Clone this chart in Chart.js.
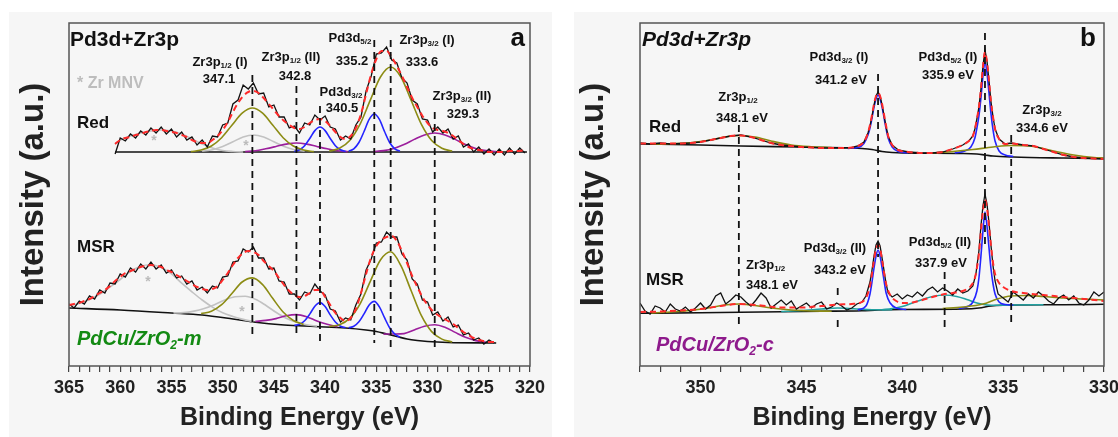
<!DOCTYPE html>
<html><head><meta charset="utf-8">
<script src="https://cdn.jsdelivr.net/npm/chart.js@4.4.1/dist/chart.umd.min.js"></script>
<style>
html,body{margin:0;padding:0;background:#fff;}
#wrap{position:relative;width:1118px;height:437px;overflow:hidden;}
.bg{position:absolute;background:#f6f6f6;}
canvas{position:absolute;top:0;}
</style></head><body>
<div id="wrap">
<div class="bg" style="left:9px;top:12px;width:543px;height:425px"></div>
<div class="bg" style="left:574px;top:12px;width:544px;height:425px"></div>
<canvas id="ca" width="559" height="437" style="left:0"></canvas>
<canvas id="cb" width="580" height="437" style="left:559px"></canvas>
</div>
<script>
// ---------- Panel a (PdCu/ZrO2-m) ----------
const aTicks = [365,360,355,350,345,340,335,330,325,320];
const aRedE = [360.5,360,359.5,359,358.5,358,357.5,357,356.5,356,355.5,355,354.5,354,353.5,353,352.5,352,351.5,351,350.5,350,349.5,349,348.5,348,347.5,347,346.5,346,345.5,345,344.5,344,343.5,343,342.5,342,341.5,341,340.5,340,339.5,339,338.5,338,337.5,337,336.5,336,335.5,335,334.5,334,333.5,333,332.5,332,331.5,331,330.5,330,329.5,329,328.5,328,327.5,327,326.5,326,325.5,325,324.5,324,323.5,323,322.5,322,321.5,321,320.5];
const aRedY = [212,228,225,232,228,235,231,238,233,239,232,237,229,234,226,229,221,226,219,230,229,241,243,262,266,281,277,283,272,273,259,261,249,249,238,240,233,243,241,251,246,250,239,237,226,230,227,241,249,275,290,312,313,319,306,303,288,283,266,262,247,246,234,239,233,237,227,230,219,222,214,219,212,217,211,217,211,218,212,218,213];
const aRedFit = [222,226,228,229,231,232,234,235,236,236,235,234,233,231,229,226,224,223,223,226,230,236,244,254,263,270,274,275,273,268,262,256,250,245,241,238,237,239,243,246,247,245,240,234,229,227,230,238,252,272,292,307,315,315,309,300,290,279,268,259,250,243,238,236,235,233,230,226,222,219,217,216,215,214,214,214,214,215,215,215,216];
const aRedBaseE = [360.5,320.3];
const aRedBaseY = [214,214];
const aRedGray1E = [360.5,360,359,358,357,356,355,354,353,352,351,350,349,348];
const aRedGray1Y = [222,226,230,233,235,236,235,232,227,222,218,215.5,214.5,214];
const aRedGray2E = [352,351,350,349,348,347,346,345,344,343,342];
const aRedGray2Y = [214.7,216.3,219.5,224.3,229,231,229,224.3,219.5,216.3,214.7];
const aRedOl1E = [353.1,352.1,351.1,350.1,349.1,348.1,347.1,346.1,345.1,344.1,343.1,342.1,341.1];
const aRedOl1Y = [214.4,215.9,220,228.3,240.7,252.8,258,252.8,240.7,228.3,220,215.9,214.4];
const aRedPu1E = [347.8,346.8,345.8,344.8,343.8,342.8,341.8,340.8,339.8,338.8,337.8];
const aRedPu1Y = [214.4,215.2,217.2,219.5,221.9,223,221.9,219.5,217.2,215.2,214.4];
const aRedBl1E = [343,342.5,342,341.5,341,340.5,340,339.5,339,338.5,338];
const aRedBl1Y = [214.5,216.2,220.3,227.5,235.4,239,235.4,227.5,220.3,216.2,214.5];
const aRedBl2E = [337.7,337.2,336.7,336.2,335.7,335.2,334.7,334.2,333.7,333.2,332.7];
const aRedBl2Y = [214.8,217.2,223.5,234.5,246.6,252,246.6,234.5,223.5,217.2,214.8];
const aRedOl2E = [339.6,338.6,337.6,336.6,335.6,334.6,333.6,332.6,331.6,330.6,329.6,328.6,327.6];
const aRedOl2Y = [214.9,217.7,225.5,241.6,265.6,289,299,289,265.6,241.6,225.5,217.7,214.9];
const aRedPu2E = [335.3,334.3,333.3,332.3,331.3,330.3,329.3,328.3,327.3,326.3,325.3,324.3,323.3];
const aRedPu2Y = [214.4,215.4,217.6,221.5,226.6,231.1,233,231.1,226.6,221.5,217.6,215.4,214.4];

const aMsrE = [365,364.5,364,363.5,363,362.5,362,361.5,361,360.5,360,359.5,359,358.5,358,357.5,357,356.5,356,355.5,355,354.5,354,353.5,353,352.5,352,351.5,351,350.5,350,349.5,349,348.5,348,347.5,347,346.5,346,345.5,345,344.5,344,343.5,343,342.5,342,341.5,341,340.5,340,339.5,339,338.5,338,337.5,337,336.5,336,335.5,335,334.5,334,333.5,333,332.5,332,331.5,331,330.5,330,329.5,329,328.5,328,327.5,327,326.5,326,325.5,325,324.5,324,323.5];
const aMsrY = [62,58,65,62,70,67,76,73,83,82,92,89,98,94,102,97,104,97,101,93,96,88,90,82,85,76,79,73,80,78,89,90,104,105,117,114,119,108,108,97,98,85,84,72,72,66,74,72,82,75,71,57,55,44,48,46,61,72,96,107,123,124,134,129,129,112,106,87,82,66,64,51,54,45,49,39,41,31,33,26,28,22,26,23];
const aMsrFit = [61,62,63,65,67,70,73,76,80,85,89,93,95,97,99,100,101,100,99,96,94,91,88,85,82,79,77,76,77,80,86,93,101,108,113,115,114,111,105,100,95,88,81,75,71,69,70,73,76,76,69,61,53,48,45,48,57,73,92,109,120,126,129,130,125,115,103,90,79,69,61,55,51,48,45,42,38,34,31,28,26,25,24,24];
const aMsrBaseE = [365,360,355,352,349,347,344,341,338,336,335,334,333,332,331,330,328,323.3];
const aMsrBaseY = [58,56,53,51,47,44,41,39.5,38,36,34.5,32,29.5,27,25.5,24.5,23.5,23];
const aMsrGray1E = [365,364,363,362,361,360,359,358,357,356,355,354,353,352,351,350,349,348,347];
const aMsrGray1Y = [60.5,62.5,66.4,71.8,79,86.5,94.4,99.7,101.2,98.5,92.1,82.8,74.2,66,58.9,53.2,49.5,46.6,44.4];
const aMsrGray2E = [354.8,353.8,352.8,351.8,350.8,349.8,348.8,347.8,346.8,345.8,344.8,343.8,342.8,341.8,340.8];
const aMsrGray2Y = [53.1,53.4,54.9,57.5,61.3,66,69.2,69.8,66.7,60.7,53.7,47.8,43.8,41.3,39.8];
const aMsrOl1E = [352.1,351.1,350.1,349.1,348.1,347.1,346.1,345.1,344.1,343.1,342.1];
const aMsrOl1Y = [52.4,54.8,61.3,72.5,84,88.1,81.4,67.4,54,45.5,41.5];
const aMsrPu1E = [346.8,345.8,344.8,343.8,342.8,341.8,340.8,339.8,338.8];
const aMsrPu1Y = [44.6,45.6,47.4,50.3,51.4,49.3,45,41.7,39.3];
const aMsrBl1E = [343,342.5,342,341.5,341,340.5,340,339.5,339,338.5,338];
const aMsrBl1Y = [40.6,41.7,45.3,51.9,59.8,63.4,59.4,51.1,44,39.8,38.3];
const aMsrBl2E = [337.7,337.2,336.7,336.2,335.7,335.2,334.7,334.2,333.7,333.2,332.7];
const aMsrBl2Y = [38.3,39.7,44.2,52.2,61,64.6,59.1,48.3,38.2,32,28.9];
const aMsrOl2E = [339.6,338.6,337.6,336.6,335.6,334.6,333.6,332.6,331.6,330.6,329.6,328.6,327.6];
const aMsrOl2Y = [39.5,41.3,47.6,61.9,84.4,106,114.2,100.3,75.2,50.3,34.4,26.9,24.1];
const aMsrPu2E = [334.3,333.3,332.3,331.3,330.3,329.3,328.3,327.3,326.3,325.3,324.3];
const aMsrPu2Y = [31.9,32,32.4,36,39.8,41.3,38.8,33.6,28.7,25.4,23.7];

const aMarkE = [347.1,342.8,340.5,335.2,333.6,329.3];
const aMarkTop = [291,280,260,326,326,254];
const aMarkBot = [29,28,24,23,14,19];

// ---------- Panel b (PdCu/ZrO2-c) ----------
const bTicks = [350,345,340,335,330];
const bRedE = [353,352.5,352,351.5,351,350.5,350,349.5,349,348.5,348,347.5,347,346.5,346,345.5,345,344.5,344,343.5,343,342.5,342.2,341.9,341.7,341.6,341.5,341.4,341.3,341.2,341.1,341.0,340.9,340.8,340.7,340.5,340.2,339.7,339.0,338.5,338.0,337.5,337.0,336.7,336.5,336.4,336.3,336.2,336.1,336.0,335.9,335.8,335.7,335.6,335.5,335.4,335.2,334.9,334.6,334.0,333.5,333.0,332.5,332.0,331.5,331.0,330.5,330.0];
const bRedY = [223,222,223,222,222.5,223,224,226,228,230,231,229,226,223,221,220,219,218.5,218,218,218,218.5,220,224,233,240,250,261,270,274,270,261,250,239,230,221,216,214,213,213,214,217,221,225,230,237,247,259,277,300,316,305,285,264,249,237,227,222,223,221,220,217,214,211,209,208,207.5,207];
const bRedFit = [222.5,222.5,222.5,222.5,222.5,223,224,226,228,230,230.5,229,226,223,221,220,219,218.5,218,218,218,218.5,220,224,233,241,251,262,270,273,270,262,251,240,230,221,216,214,213,213,214,217,221,225,230,237,247,259,277,299,314,304,285,264,249,237,227,222,222.5,221,220,217,214,211,209,208,207.5,207];
const bRedBaseE = [353,350,348,345,342.5,342,341.5,341,340.5,340,337,336.3,335.9,335.5,334.5,332,330];
const bRedBaseY = [222,221,220,219,218,217.5,216.5,214.5,213.5,213,212.5,212,211,210,209,208,207.5];
const bRedOl1E = [352.5,351.5,350.5,349.5,348.8,348.1,347.3,346.5,345.5,344.5,343.5];
const bRedOl1Y = [222,222.3,223.3,226,229,230.5,229,225,221,219.3,218.5];
const bRedBl1E = [342.7,342.2,341.9,341.7,341.6,341.5,341.4,341.3,341.2,341.1,341.0,340.9,340.8,340.7,340.5,340.2,339.7];
const bRedBl1Y = [217.6,218.5,222.5,231,238,248,259,267,271,267,259,248,237,228,219,214.5,213.2];
const bRedBl2E = [337.4,336.9,336.6,336.4,336.3,336.2,336.1,336.0,335.9,335.8,335.7,335.6,335.5,335.4,335.2,334.9,334.5];
const bRedBl2Y = [213,215,219,228,238,250,268,290,304,293,273,252,236,225,215,211,209.5];
const bRedOl2E = [338.5,337.5,336.5,335.5,334.6,333.5,332.5,331.5,330.5,330];
const bRedOl2Y = [213,214.5,216.5,219,220.5,219.5,215,211,208.5,208];

const bMsrE = [353.0,352.75,352.5,352.25,352.0,351.75,351.5,351.25,351.0,350.75,350.5,350.25,350.0,349.75,349.5,349.25,349.0,348.75,348.5,348.25,348.0,347.75,347.5,347.25,347.0,346.75,346.5,346.25,346.0,345.75,345.5,345.25,345.0,344.75,344.5,344.25,344.0,343.75,343.5,343.25,343.0,342.75,342.5,342.25,342.0,341.8,341.6,341.5,341.4,341.3,341.2,341.1,341.0,340.9,340.8,340.7,340.5,340.25,340.0,339.75,339.5,339.25,339.0,338.75,338.5,338.25,338.0,337.75,337.5,337.25,337.0,336.75,336.5,336.35,336.2,336.1,336.0,335.9,335.8,335.7,335.6,335.5,335.4,335.25,335.0,334.75,334.5,334.25,334.0,333.75,333.5,333.25,333.0,332.75,332.5,332.25,332.0,331.75,331.5,331.25,331.0,330.75,330.5,330.25,330.0];
const bMsrY = [63,55,52,60,58,54,62,57,55,59,54,58,63,57,61,70,73,62,66,71,69,64,60,66,73,68,58,62,66,61,65,57,60,63,58,62,64,57,59,63,60,56,58,62,64,70,84,96,110,121,125,120,108,95,82,73,69,72,67,71,69,74,70,76,79,74,78,75,71,77,73,75,80,92,115,140,160,172,162,143,120,100,85,72,68,64,74,70,66,72,68,74,70,65,62,68,71,66,70,63,61,66,74,70,74];
const bMsrFitE = [353,352,351,350,349,348.1,347,346,345,344,343.2,342.5,342,341.8,341.6,341.5,341.4,341.3,341.2,341.1,341.0,340.9,340.8,340.6,340.3,340,339.5,339,338.5,338,337.5,337,336.6,336.4,336.3,336.2,336.1,336.0,335.9,335.8,335.7,335.6,335.5,335.4,335.2,335.0,334.6,334,333,332,331,330];
const bMsrFitY = [54,54.5,55.5,57,60,62,60.5,58.5,58.5,60,61.5,62,64,68,80,92,106,117,121,117,106,93,82,71,65,63,63.5,66,69,71.5,73,75,80,88,98,112,135,155,166,158,140,120,103,92,83,79,75,73,71,69,67,65];
const bMsrBaseE = [353,350,347,344,342,341.2,340,337,336.2,335.6,335,332,330];
const bMsrBaseY = [52.7,53.3,54,54.7,55.3,56,56.5,57,58,60,60.7,61.3,61.7];
const bMsrOl1E = [352.5,351.5,350.5,349.5,348.8,348.1,347.3,346.5,345.5,344.5,343.5];
const bMsrOl1Y = [53,54,55.5,58.5,61,62,60.5,58,56,55,54.8];
const bMsrCy1E = [346,345,344,343.2,342.4,341.5,340.5];
const bMsrCy1Y = [54.5,55.5,57,58,57.3,56.3,56.3];
const bMsrCy2E = [341,340.5,340,339.5,339,338.5,337.9,337.3,336.8,336.3,335.8,335.3,334.5,333];
const bMsrCy2Y = [56.3,57.5,59.5,63,66.5,69.5,71,69.5,66.5,63,61,60.7,61,61.3];
const bMsrBl1E = [342.2,341.8,341.6,341.5,341.4,341.3,341.2,341.1,341.0,340.9,340.8,340.6,340.3,339.8];
const bMsrBl1Y = [56,60,72,84,98,110,116,110,98,85,73,63,58,56.5];
const bMsrBl2E = [337.2,336.7,336.5,336.3,336.2,336.1,336.0,335.9,335.8,335.7,335.6,335.5,335.4,335.2,334.9,334.5];
const bMsrBl2Y = [57.5,60,64,75,88,110,135,154,140,118,97,82,72,64,61.5,61];
const bMsrOl2E = [338,337,336,335.3,334.6,333.8,333,332,331,330];
const bMsrOl2Y = [57.5,59,62,67,70,70.5,69.5,68,67,66];

const bMarkE = [348.1,343.2,343.2,341.2,337.9,335.9,334.6];
const bMarkTop = [241,78,46,292,94,333,231];
const bMarkBot = [39,66,38,109,36,119,43];

// ---------- styles ----------
const FAM = '"Liberation Sans", Arial, Helvetica, sans-serif';
const C = {black:'#111111', red:'#ff2a2a', olive:'#8c8c14', gray:'#c2c2c2', purple:'#9c1f9c', blue:'#2424ff', teal:'#22a0a0'};

function L(xs, ys, color, w, order, extra) {
  const n = Math.min(xs.length, ys.length);
  const data = [];
  for (let i = 0; i < n; i++) data.push({x: xs[i], y: ys[i]});
  return Object.assign({data, borderColor: color, backgroundColor: color, borderWidth: w,
    pointRadius: 0, pointHoverRadius: 0, fill: false, order, tension: 0}, extra || {});
}
const SM = {cubicInterpolationMode: 'monotone'};
const FITD = {cubicInterpolationMode: 'monotone', borderDash: [6, 4]};
function markers(es, tops, bots) {
  return es.map((e, i) => L([e, e], [tops[i], bots[i]], C.black, 1.8, 0, {borderDash: [7, 5]}));
}

function drawRich(ctx, it) {
  const st = (it.italic ? 'italic ' : '') + 'bold ';
  const main = st + it.size + 'px ' + FAM;
  const subSize = Math.round(it.size * 0.62);
  const sub = st + subSize + 'px ' + FAM;
  let w = 0;
  const parts = it.segs.map(s => {
    const isSub = typeof s === 'object';
    const t = isSub ? s.sub : s;
    ctx.font = isSub ? sub : main;
    const m = ctx.measureText(t).width;
    w += m;
    return {t, isSub, m};
  });
  let x = it.align === 'center' ? it.x - w / 2 : it.align === 'right' ? it.x - w : it.x;
  ctx.fillStyle = it.color || '#111';
  ctx.textBaseline = 'middle';
  ctx.textAlign = 'left';
  parts.forEach(p => {
    ctx.font = p.isSub ? sub : main;
    ctx.fillText(p.t, x, it.y + (p.isSub ? it.size * 0.32 : 0));
    x += p.m;
  });
}
function textPlugin(items) {
  return {id: 'texts', afterDraw(chart) {
    const ctx = chart.ctx; ctx.save();
    items.forEach(it => drawRich(ctx, it));
    ctx.restore();
  }};
}
const framePlugin = {id: 'frame', afterDatasetsDraw(chart) {
  const {ctx, chartArea: a} = chart;
  ctx.save(); ctx.strokeStyle = '#555'; ctx.lineWidth = 1.5;
  ctx.strokeRect(a.left, a.top, a.right - a.left, a.bottom - a.top);
  ctx.restore();
}};

function makeOptions(xmin, xmax, ticks, yWidth, padRight, titlePad) {
  return {
    responsive: false, animation: false, devicePixelRatio: 1,
    layout: {padding: {left: 0, right: padRight, top: 23, bottom: 0}},
    plugins: {legend: {display: false}, tooltip: {enabled: false}},
    scales: {
      x: {type: 'linear', reverse: true, min: xmin, max: xmax,
        ticks: {stepSize: 1, autoSkip: false, maxRotation: 0, padding: 5, color: '#222',
          font: {family: FAM, size: 18, weight: 'bold'},
          callback: v => ticks.includes(v) ? String(v) : ''},
        grid: {display: true, drawOnChartArea: false, drawTicks: true, tickLength: 6, color: '#444', lineWidth: 1.2},
        border: {display: false},
        title: {display: true, text: 'Binding Energy (eV)', color: '#222',
          font: {family: FAM, size: 25, weight: 'bold'}, padding: {top: 0, bottom: 4}},
        afterFit: s => { s.height = 71; }},
      y: {min: 0, max: 343,
        ticks: {display: false}, grid: {display: false}, border: {display: false},
        title: {display: true, text: 'Intensity (a.u.)', color: '#222',
          font: {family: FAM, size: 33, weight: 'bold'}, padding: {top: titlePad, bottom: 0}},
        afterFit: s => { s.width = yWidth; }}
    }
  };
}

// ---------- chart a ----------
const aDatasets = [].concat(
  markers(aMarkE, aMarkTop, aMarkBot),
  [
    L(aRedE, aRedFit, C.red, 2, 1, FITD),
    L(aMsrE, aMsrFit, C.red, 2, 1, FITD),
    L(aRedE, aRedY, C.black, 1.3, 2),
    L(aMsrE, aMsrY, C.black, 1.3, 2),
    L(aRedOl1E, aRedOl1Y, C.olive, 1.6, 3, SM),
    L(aRedOl2E, aRedOl2Y, C.olive, 1.6, 3, SM),
    L(aRedBl1E, aRedBl1Y, C.blue, 1.6, 3, SM),
    L(aRedBl2E, aRedBl2Y, C.blue, 1.6, 3, SM),
    L(aRedPu1E, aRedPu1Y, C.purple, 1.6, 3, SM),
    L(aRedPu2E, aRedPu2Y, C.purple, 1.6, 3, SM),
    L(aRedGray1E, aRedGray1Y, C.gray, 1.6, 4, SM),
    L(aRedGray2E, aRedGray2Y, C.gray, 1.6, 4, SM),
    L(aMsrOl1E, aMsrOl1Y, C.olive, 1.6, 3, SM),
    L(aMsrOl2E, aMsrOl2Y, C.olive, 1.6, 3, SM),
    L(aMsrBl1E, aMsrBl1Y, C.blue, 1.6, 3, SM),
    L(aMsrBl2E, aMsrBl2Y, C.blue, 1.6, 3, SM),
    L(aMsrPu1E, aMsrPu1Y, C.purple, 1.6, 3, SM),
    L(aMsrPu2E, aMsrPu2Y, C.purple, 1.6, 3, SM),
    L(aMsrGray1E, aMsrGray1Y, C.gray, 1.6, 4, SM),
    L(aMsrGray2E, aMsrGray2Y, C.gray, 1.6, 4, SM),
    L(aRedBaseE, aRedBaseY, C.black, 1.6, 5),
    L(aMsrBaseE, aMsrBaseY, C.black, 1.6, 5, SM)
  ]);
const aTexts = [
  {x: 70, y: 40, segs: ['Pd3d+Zr3p'], size: 21},
  {x: 525, y: 39, segs: ['a'], size: 26, align: 'right'},
  {x: 77, y: 84, segs: ['* Zr MNV'], size: 16, color: '#bdbdbd'},
  {x: 77, y: 123, segs: ['Red'], size: 17},
  {x: 77, y: 247, segs: ['MSR'], size: 17},
  {x: 77, y: 339, segs: ['PdCu/ZrO', {sub: '2'}, '-m'], size: 20, italic: true, color: '#138a13'},
  {x: 220, y: 62, segs: ['Zr3p', {sub: '1/2'}, ' (I)'], size: 13, align: 'center'},
  {x: 219, y: 79, segs: ['347.1'], size: 13, align: 'center'},
  {x: 291, y: 57, segs: ['Zr3p', {sub: '1/2'}, ' (II)'], size: 13, align: 'center'},
  {x: 295, y: 76, segs: ['342.8'], size: 13, align: 'center'},
  {x: 341, y: 92, segs: ['Pd3d', {sub: '3/2'}], size: 13, align: 'center'},
  {x: 342, y: 108, segs: ['340.5'], size: 13, align: 'center'},
  {x: 350, y: 38, segs: ['Pd3d', {sub: '5/2'}], size: 13, align: 'center'},
  {x: 352, y: 61, segs: ['335.2'], size: 13, align: 'center'},
  {x: 427, y: 40, segs: ['Zr3p', {sub: '3/2'}, ' (I)'], size: 13, align: 'center'},
  {x: 422, y: 62, segs: ['333.6'], size: 13, align: 'center'},
  {x: 462, y: 96, segs: ['Zr3p', {sub: '3/2'}, ' (II)'], size: 13, align: 'center'},
  {x: 463, y: 114, segs: ['329.3'], size: 13, align: 'center'},
  {x: 154, y: 141, segs: ['*'], size: 14, color: '#bbbbbb', align: 'center'},
  {x: 246, y: 146, segs: ['*'], size: 14, color: '#bbbbbb', align: 'center'},
  {x: 148, y: 282, segs: ['*'], size: 14, color: '#bbbbbb', align: 'center'},
  {x: 242, y: 312, segs: ['*'], size: 14, color: '#bbbbbb', align: 'center'}
];
new Chart(document.getElementById('ca'), {
  type: 'line',
  data: {datasets: aDatasets},
  options: makeOptions(320, 365, aTicks, 69, 29, 14),
  plugins: [framePlugin, textPlugin(aTexts)]
});

// ---------- chart b ----------
const bDatasets = [].concat(
  markers(bMarkE, bMarkTop, bMarkBot),
  [
    L(bRedE, bRedFit, C.red, 2, 1, FITD),
    L(bMsrFitE, bMsrFitY, C.red, 2, 1, FITD),
    L(bRedE, bRedY, C.black, 1.3, 2),
    L(bMsrE, bMsrY, C.black, 1.3, 2),
    L(bRedOl1E, bRedOl1Y, C.olive, 1.6, 3, SM),
    L(bRedOl2E, bRedOl2Y, C.olive, 1.6, 3, SM),
    L(bRedBl1E, bRedBl1Y, C.blue, 1.6, 3, SM),
    L(bRedBl2E, bRedBl2Y, C.blue, 1.6, 3, SM),
    L(bMsrOl1E, bMsrOl1Y, C.olive, 1.6, 3, SM),
    L(bMsrOl2E, bMsrOl2Y, C.olive, 1.6, 3, SM),
    L(bMsrBl1E, bMsrBl1Y, C.blue, 1.6, 3, SM),
    L(bMsrBl2E, bMsrBl2Y, C.blue, 1.6, 3, SM),
    L(bMsrCy1E, bMsrCy1Y, C.teal, 1.6, 3, SM),
    L(bMsrCy2E, bMsrCy2Y, C.teal, 1.6, 3, SM),
    L(bRedBaseE, bRedBaseY, C.black, 1.6, 5, SM),
    L(bMsrBaseE, bMsrBaseY, C.black, 1.6, 5, SM)
  ]);
const bTexts = [
  {x: 83, y: 40, segs: ['Pd3d+Zr3p'], size: 21, italic: true},
  {x: 537, y: 39, segs: ['b'], size: 26, align: 'right'},
  {x: 90, y: 127, segs: ['Red'], size: 17},
  {x: 87, y: 280, segs: ['MSR'], size: 17},
  {x: 97, y: 345, segs: ['PdCu/ZrO', {sub: '2'}, '-c'], size: 20, italic: true, color: '#8e1a8c'},
  {x: 179, y: 97, segs: ['Zr3p', {sub: '1/2'}], size: 13, align: 'center'},
  {x: 183, y: 118, segs: ['348.1 eV'], size: 13, align: 'center'},
  {x: 280, y: 57, segs: ['Pd3d', {sub: '3/2'}, ' (I)'], size: 13, align: 'center'},
  {x: 282, y: 80, segs: ['341.2 eV'], size: 13, align: 'center'},
  {x: 389, y: 57, segs: ['Pd3d', {sub: '5/2'}, ' (I)'], size: 13, align: 'center'},
  {x: 389, y: 75, segs: ['335.9 eV'], size: 13, align: 'center'},
  {x: 483, y: 110, segs: ['Zr3p', {sub: '3/2'}], size: 13, align: 'center'},
  {x: 483, y: 128, segs: ['334.6 eV'], size: 13, align: 'center'},
  {x: 187, y: 265, segs: ['Zr3p', {sub: '1/2'}], size: 13},
  {x: 187, y: 285, segs: ['348.1 eV'], size: 13},
  {x: 276, y: 248, segs: ['Pd3d', {sub: '3/2'}, ' (II)'], size: 13, align: 'center'},
  {x: 281, y: 270, segs: ['343.2 eV'], size: 13, align: 'center'},
  {x: 381, y: 242, segs: ['Pd3d', {sub: '5/2'}, ' (II)'], size: 13, align: 'center'},
  {x: 382, y: 263, segs: ['337.9 eV'], size: 13, align: 'center'}
];
new Chart(document.getElementById('cb'), {
  type: 'line',
  data: {datasets: bDatasets},
  options: makeOptions(330, 353, bTicks, 81, 35, 15),
  plugins: [framePlugin, textPlugin(bTexts)]
});
</script>
</body></html>
